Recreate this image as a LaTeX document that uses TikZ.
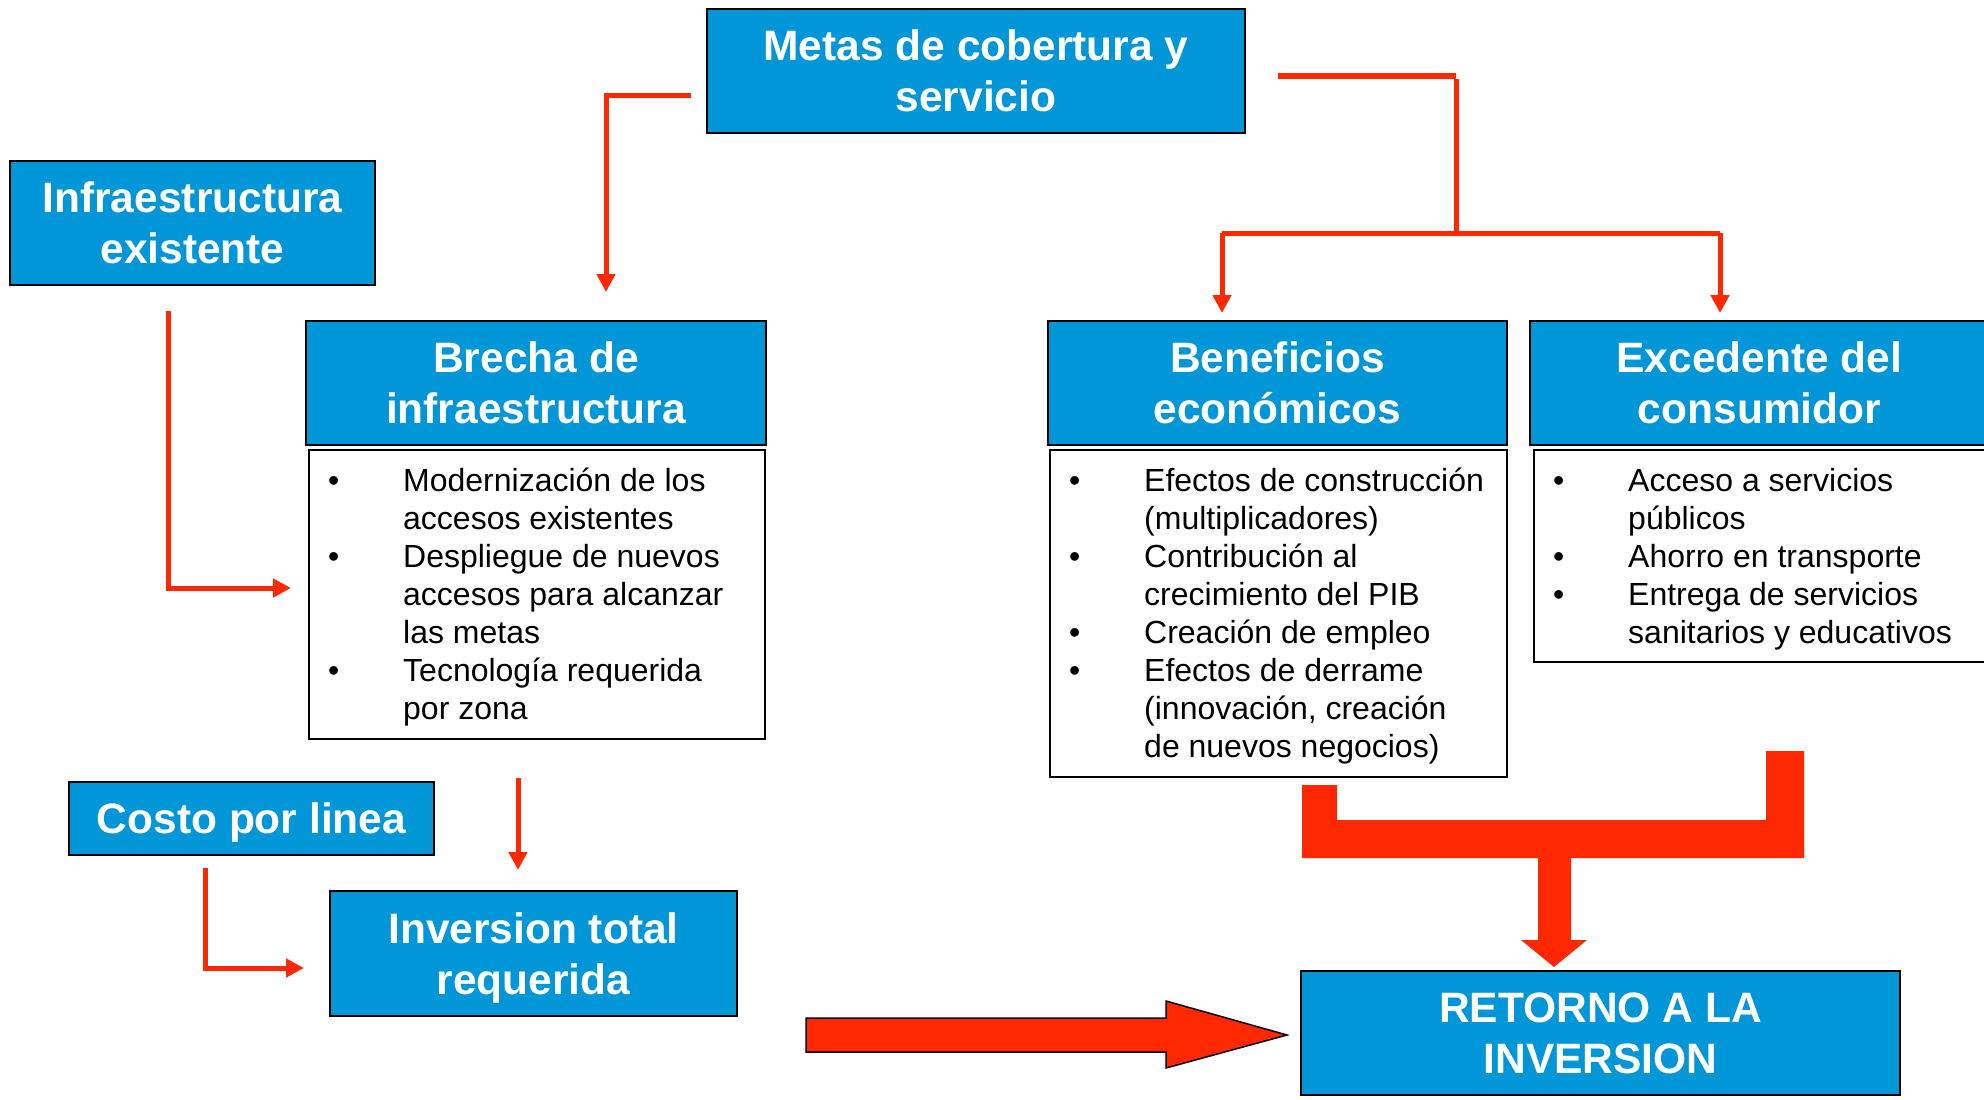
\documentclass[tikz,border=0pt]{standalone}
\usepackage{fontspec}
\setmainfont{Liberation Sans}
\usetikzlibrary{arrows.meta}
\definecolor{boxblue}{RGB}{0,150,215}
\definecolor{arrred}{RGB}{255,40,0}
\newcommand\lbul[1]{\hbox{\hbox to 75pt{\textbullet\hfil}#1}}
\newcommand\lcon[1]{\hbox{\hbox to 75pt{\hfil}#1}}
\newcommand\lstbox[1]{\vtop{\baselineskip=38pt\lineskiplimit=-100pt #1}}
\tikzset{
  hdr/.style={draw=black, line width=2pt, fill=boxblue, inner sep=0pt, text=white,
    font=\fontsize{42.5}{51}\selectfont\bfseries, align=center, text depth=0pt},
  lstframe/.style={draw=black, line width=2pt, fill=white, inner sep=0pt},
  lsttext/.style={anchor=base west, inner sep=0pt, font=\fontsize{32}{38}\selectfont},
  conn/.style={draw=arrred, line width=5pt, line join=miter, -{Triangle[length=18pt,width=18pt]}},
  plain/.style={draw=arrred, line width=5pt, line join=miter},
}
\begin{document}
\begin{tikzpicture}[x=1pt,y=-1pt]
\useasboundingbox (0,0) rectangle (1984,1100);
\clip (0,0) rectangle (1984,1100);
\fill[white] (0,0) rectangle (1984,1100);

% header boxes
\node[hdr, minimum width=538pt, minimum height=124pt] (metas) at (976,71) {Metas de cobertura y\\servicio};
\node[hdr, minimum width=365pt, minimum height=124pt] (infra) at (192.5,223) {Infraestructura\\existente};
\node[hdr, minimum width=460pt, minimum height=124pt] (brecha) at (536,383) {Brecha de\\infraestructura};
\node[hdr, minimum width=459pt, minimum height=124pt] (benef) at (1277.5,383) {Beneficios\\económicos};
\node[hdr, minimum width=459pt, minimum height=124pt] (exced) at (1759.5,383) {Excedente del\\consumidor};
\node[hdr, minimum width=365pt, minimum height=73pt] (costo) at (251.5,818.5) {Costo por linea};
\node[hdr, minimum width=407pt, minimum height=125pt] (inver) at (533.5,953.5) {Inversion total\\requerida};
\node[hdr, minimum width=599pt, minimum height=124pt] (retorno) at (1600.5,1033) {RETORNO A LA\\INVERSION};

% list frames
\node[lstframe, minimum width=456pt, minimum height=289pt] (brechalist) at (537,594.5) {};
\node[lstframe, minimum width=457pt, minimum height=327pt] (beneflist) at (1278.5,613.5) {};
\node[lstframe, minimum width=457pt, minimum height=212pt] (excedlist) at (1762.5,556) {};

% list texts
\node[lsttext] (brechatxt) at (328,491) {\lstbox{%
  \lbul{Modernización de los}\lcon{accesos existentes}%
  \lbul{Despliegue de nuevos}\lcon{accesos para alcanzar}\lcon{las metas}%
  \lbul{Tecnología requerida}\lcon{por zona}}};
\node[lsttext] (beneftxt) at (1069,491) {\lstbox{%
  \lbul{Efectos de construcción}\lcon{(multiplicadores)}%
  \lbul{Contribución al}\lcon{crecimiento del PIB}%
  \lbul{Creación de empleo}%
  \lbul{Efectos de derrame}\lcon{(innovación, creación}\lcon{de nuevos negocios)}}};
\node[lsttext] (excedtxt) at (1553,491) {\lstbox{%
  \lbul{Acceso a servicios}\lcon{públicos}%
  \lbul{Ahorro en transporte}%
  \lbul{Entrega de servicios}\lcon{sanitarios y educativos}}};

% connector coordinates
\coordinate (mA) at (691,95);
\coordinate (mB) at (606,95);
\coordinate (mC) at (606,292);
\coordinate (rA) at (1278,76);
\coordinate (rB) at (1456,76);
\coordinate (rC) at (1456,233);
\coordinate (rL) at (1222,233);
\coordinate (rR) at (1720,233);
\coordinate (rLt) at (1222,313);
\coordinate (rRt) at (1720,313);
\coordinate (iA) at (168,311);
\coordinate (iB) at (168,588);
\coordinate (iC) at (291,588);
\coordinate (bA) at (518,778);
\coordinate (bB) at (518,870);
\coordinate (cA) at (205,868);
\coordinate (cB) at (205,968);
\coordinate (cC) at (304,968);

% thin connectors
\draw[conn] (mA) -- (mB) -- (mC);
\draw[draw=arrred, line width=6.5pt] (rA) -- (rB);
\draw[plain] (1456,79) -- (rC);
\draw[plain] (rL) -- (rR);
\draw[conn] (rL) -- (rLt);
\draw[conn] (rR) -- (rRt);
\draw[conn] (iA) -- (iB) -- (iC);
\draw[conn] (bA) -- (bB);
\draw[conn] (cA) -- (cB) -- (cC);

% big arrow Inversion -> Retorno
\draw[fill=arrred, draw=black, line width=1.5pt, line join=miter]
  (806,1018) -- (1166,1018) -- (1166,1001) -- (1287,1035) -- (1166,1068)
  -- (1166,1052) -- (806,1052) -- cycle;

% thick merge connector to Retorno
\fill[arrred] (1302,785) -- (1337,785) -- (1337,820) -- (1766,820) -- (1766,751)
  -- (1804,751) -- (1804,858) -- (1571,858) -- (1571,940) -- (1587,940)
  -- (1554,967) -- (1521,940) -- (1538,940) -- (1538,858) -- (1302,858) -- cycle;
\end{tikzpicture}
\end{document}
